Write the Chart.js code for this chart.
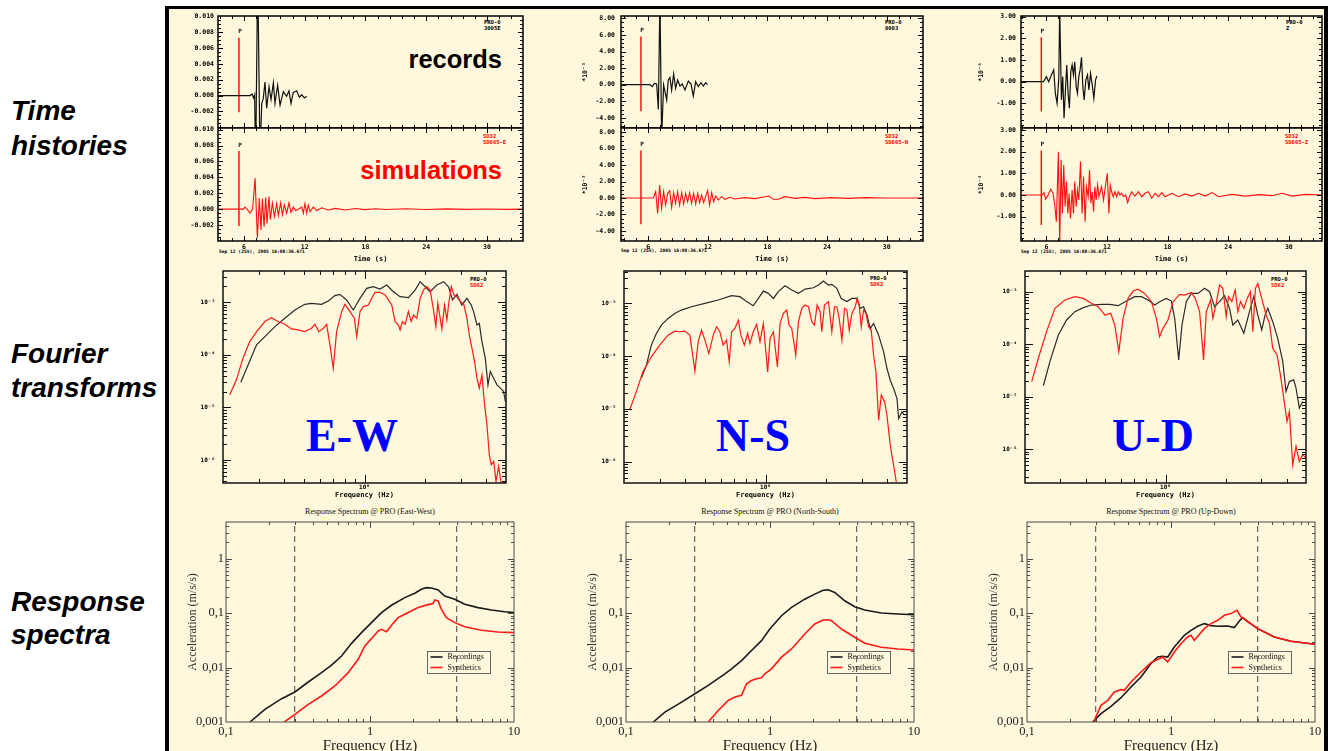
<!DOCTYPE html>
<html>
<head>
<meta charset="utf-8">
<title>Time histories, Fourier transforms and response spectra at PRO</title>
<script src="https://cdn.jsdelivr.net/npm/chart.js@4.4.1/dist/chart.umd.min.js"></script>
<style>
  html, body { margin:0; padding:0; }
  body { width:1328px; height:751px; position:relative; overflow:hidden; background:#ffffff; }
  #panel { position:absolute; left:165px; top:6px; width:1163px; height:820px; box-sizing:border-box; border:4px solid #000; border-top-width:3px; background:#FFF8DC; }
  canvas { position:absolute; }
  .side { position:absolute; left:11px; font:italic bold 28px "Liberation Sans", Arial, sans-serif; line-height:28px; color:#000; white-space:nowrap; }
  .big { position:absolute; width:200px; margin-left:-100px; text-align:center; font:bold 46px "Liberation Serif", "Times New Roman", serif; line-height:46px; color:#0000ff; }
  .tag { position:absolute; width:200px; text-align:right; font:bold 25.5px "Liberation Sans", Arial, sans-serif; line-height:25.5px; white-space:nowrap; }
  .tiny { position:absolute; font:bold 5.5px "DejaVu Sans Mono", monospace; line-height:5.5px; white-space:pre; }
  .stamp { position:absolute; font:bold 4.6px "DejaVu Sans Mono", monospace; line-height:5px; white-space:nowrap; color:#000; }
  .rtitle { position:absolute; width:300px; margin-left:-150px; text-align:center; font:8px "Liberation Serif", "Times New Roman", serif; line-height:8px; color:#111; white-space:nowrap; }
</style>
</head>
<body>
<div id="panel"></div>

<div class="side" style="top:97px">Time</div>
<div class="side" style="top:132px">histories</div>
<div class="side" style="top:340px">Fourier</div>
<div class="side" style="top:374px">transforms</div>
<div class="side" style="top:588px">Response</div>
<div class="side" style="top:621px">spectra</div>

<div class="tag" style="left:302px; top:47px; color:#000;">records</div>
<div class="tag" style="left:302px; top:158px; color:#ff0000;">simulations</div>

<div class="big" style="left:352px; top:413px;">E-W</div>
<div class="big" style="left:753px; top:413px;">N-S</div>
<div class="big" style="left:1153px; top:413px;">U-D</div>

<div class="tiny" style="left:484px; top:20px; color:#000;">PRO-0
3005E</div>
<div class="tiny" style="left:483px; top:134px; color:#ff0000;">SD32
SD065-E</div>
<div class="tiny" style="left:885px; top:20px; color:#000;">PRO-0
0003</div>
<div class="tiny" style="left:885px; top:134px; color:#ff0000;">SD32
SD065-N</div>
<div class="tiny" style="left:1286px; top:20px; color:#000;">PRO-0
Z</div>
<div class="tiny" style="left:1285px; top:134px; color:#ff0000;">SD32
SD065-Z</div>

<div class="tiny" style="left:470px; top:277px; color:#000;">PRO-0</div>
<div class="tiny" style="left:470px; top:283px; color:#ff0000;">SD62</div>
<div class="tiny" style="left:870px; top:276px; color:#000;">PRO-0</div>
<div class="tiny" style="left:870px; top:282px; color:#ff0000;">SD62</div>
<div class="tiny" style="left:1271px; top:277px; color:#000;">PRO-0</div>
<div class="tiny" style="left:1271px; top:283px; color:#ff0000;">SD62</div>

<div class="stamp" style="left:219px; top:249px;">Sep 12 (255), 2005 16:08:36.671</div>
<div class="stamp" style="left:621px; top:248px;">Sep 12 (255), 2005 16:08:36.671</div>
<div class="stamp" style="left:1021px; top:249px;">Sep 12 (255), 2005 16:08:36.671</div>

<div class="rtitle" style="left:370px; top:508px;">Response Spectrum @ PRO (East-West)</div>
<div class="rtitle" style="left:770px; top:508px;">Response Spectrum @ PRO (North-South)</div>
<div class="rtitle" style="left:1171px; top:508px;">Response Spectrum @ PRO (Up-Down)</div>

<script>
// ---------------- tick values and labels ----------------
const timeXTicks = [6, 12, 18, 24, 30];
const timeXLabels = ['6', '12', '18', '24', '30'];
const ewTimeYTicks = [-0.002, 0, 0.002, 0.004, 0.006, 0.008, 0.010];
const ewTimeYLabels = ['-0.002', '0.000', '0.002', '0.004', '0.006', '0.008', '0.010'];
const nsTimeYTicks = [-4, -2, 0, 2, 4, 6, 8];
const nsTimeYLabels = ['-4.00', '-2.00', '0.00', '2.00', '4.00', '6.00', '8.00'];
const udTimeYTicks = [-1, 0, 1, 2, 3];
const udTimeYLabels = ['-1.00', '0.00', '1.00', '2.00', '3.00'];
const fourierXTicks = [1];
const fourierXLabels = ['10\u2070'];
const fourierYTicks = [1e-6, 1e-5, 1e-4, 1e-3];
const fourierYLabels = ['10\u207B\u2076', '10\u207B\u2075', '10\u207B\u2074', '10\u207B\u00B3'];
const rsXTicks = [0.1, 1, 10];
const rsXLabels = ['0,1', '1', '10'];
const rsYTicks = [0.001, 0.01, 0.1, 1];
const rsYLabels = ['0,001', '0,01', '0,1', '1'];
const rsBand = [0.3, 4];            // dashed frequency limits (Hz)

// ---------------- P arrival picks (s) and bar extents ----------------
const pArrival = [5.5, 5.26, 5.5];
const pBarEW = [-0.0021, 0.0073];
const pBarNS = [-3.2, 5.8];
const pBarUD = [-1.38, 2.05];

// ---------------- time histories [t (s), value] ----------------
const ewRecord = [[3.4,0],[6.6,0],[6.8,0.0002],[6.95,-0.0003],[7.05,0.0001],[7.15,-0.009],[7.35,0.016],[7.58,-0.008],[7.75,-0.001],[7.9,-0.0004],[8.07,0.0017],[8.24,-0.0016],[8.47,0.0011],[8.67,-0.0005],[8.9,0.0016],[9.06,-0.001],[9.32,0.0013],[9.56,-0.0012],[9.88,0.0005],[10.21,-0.0001],[10.44,0.0006],[10.64,-0.001],[10.87,0.0004],[11.2,0.0006],[11.47,-0.0002],[11.7,0.0001],[11.96,-0.0003],[12.19,-0.0001]];
const ewSynth = [[3.4,0],[5.95,0],[6.1,0.00025],[6.3,0],[6.59,-0.0005],[6.85,0],[7.09,0.0039],[7.32,-0.0036],[7.51,0.0014],[7.68,-0.0026],[7.81,0.0013],[7.98,-0.0022],[8.14,0.0015],[8.27,-0.0018],[8.47,0.0016],[8.6,-0.0013],[8.8,0.00075],[9.0,-0.0009],[9.23,0.0007],[9.39,-0.0008],[9.62,0.0008],[9.79,-0.0007],[9.98,0.00055],[10.21,-0.0005],[10.44,0.0008],[10.64,-0.0004],[10.87,0.00025],[11.1,-0.00017],[11.37,0],[11.7,0.00025],[11.86,-0.0005],[12.02,0.0007],[12.19,-0.0005],[12.35,0.0005],[12.52,-0.0003],[12.85,0.00025],[13.18,-0.00017],[13.68,0.00017],[14.34,-0.0001],[15.0,0.0001],[16,-0.0001],[17,0.00008],[18,-0.00006],[19,0.00006],[20,-0.00005],[22,0.00005],[24,-0.00004],[26,0.00004],[28,-0.00003],[30,0.00003],[32,-0.00002],[33.6,0]];
const nsRecord = [[3.3,0],[6.17,0],[6.4,-0.24],[6.6,0.16],[6.84,0.08],[7.01,-3.0],[7.17,10.5],[7.34,-6.5],[7.54,-0.04],[7.68,-0.84],[7.85,-1.84],[8.01,0.56],[8.18,0.88],[8.35,-0.64],[8.55,1.28],[8.75,-0.44],[8.95,0.56],[9.19,-0.16],[9.42,0.08],[9.69,-0.64],[10.03,0.44],[10.3,0.08],[10.53,-1.36],[10.77,0.36],[11.03,-0.24],[11.3,0.24],[11.54,-0.16],[11.77,0.24],[11.97,0]];
const nsSynth = [[3.3,0],[6.5,0],[6.74,0.77],[6.94,-1.87],[7.14,1.59],[7.34,-1.26],[7.54,0.77],[7.74,-0.85],[7.95,0.57],[8.15,0.89],[8.35,-1.14],[8.55,0.65],[8.75,-0.65],[8.95,0.77],[9.15,-0.85],[9.36,0.65],[9.56,-0.73],[9.76,0.57],[9.96,-0.45],[10.16,0.65],[10.36,-0.65],[10.56,0.57],[10.77,-0.73],[10.97,0.57],[11.17,-0.57],[11.37,0.37],[11.57,-0.57],[11.77,0.16],[11.97,0.89],[12.17,-0.85],[12.38,0.65],[12.58,-0.45],[12.78,0.24],[13.05,-0.24],[13.38,0.16],[13.72,-0.16],[14.22,0.08],[14.72,-0.12],[15.73,0.04],[16.74,-0.08],[17.74,0.16],[18.15,0.24],[18.58,-0.16],[19.09,-0.16],[19.76,0.16],[20.77,-0.04],[21.77,0.08],[22.78,-0.08],[24.46,0.04],[26.13,-0.04],[27.81,0.04],[29.83,0],[33.7,0]];
const udRecord = [[3.5,0],[5.7,0],[5.83,0.08],[6.0,0.23],[6.23,0],[6.5,0.31],[6.73,0.54],[6.89,-0.54],[7.06,-1.0],[7.23,0.15],[7.32,3.4],[7.49,-0.85],[7.62,0.23],[7.75,-1.69],[7.89,-0.38],[8.02,0.77],[8.15,-0.54],[8.28,-1.23],[8.42,0.46],[8.55,0.77],[8.68,0.31],[8.81,0.92],[8.95,-0.23],[9.08,-0.54],[9.21,0.23],[9.34,0.54],[9.48,1.12],[9.61,-0.23],[9.74,-0.85],[9.91,0.08],[10.07,0.31],[10.21,-0.38],[10.37,0.38],[10.54,-0.15],[10.7,-0.77],[10.87,0.08],[11.0,0.26]];
const udSynth = [[3.5,0],[5.6,0],[5.77,0.11],[5.93,-0.2],[6.17,0],[6.43,0.26],[6.66,0.08],[6.83,-0.46],[6.99,-1.23],[7.19,2.0],[7.32,-2.3],[7.46,1.62],[7.59,-0.85],[7.72,1.38],[7.85,-0.54],[7.99,0.62],[8.12,-0.85],[8.25,0.08],[8.38,-1.08],[8.55,0.23],[8.68,-0.85],[8.81,0.62],[8.95,-0.54],[9.08,0.23],[9.21,-0.23],[9.38,1.54],[9.54,-0.85],[9.68,0.85],[9.84,-1.23],[9.97,0.38],[10.14,-0.08],[10.27,1.15],[10.4,-0.38],[10.54,0.15],[10.67,-0.77],[10.8,0.38],[10.93,-0.23],[11.07,0.46],[11.2,-0.08],[11.46,0.38],[11.66,-0.23],[11.79,0.23],[12.03,1.0],[12.19,-0.85],[12.32,0.46],[12.46,0.15],[12.62,-0.08],[12.79,0.15],[12.95,-0.08],[13.12,0.15],[13.28,0],[13.45,0.08],[13.65,-0.08],[13.85,0],[14.05,-0.35],[14.25,-0.05],[14.44,0.15],[14.77,-0.05],[15.11,0.15],[15.44,-0.08],[15.77,0.08],[16.1,0.15],[16.43,-0.15],[16.76,0.08],[17.09,-0.08],[17.42,0.11],[17.75,-0.08],[18.42,0.08],[19.08,-0.08],[19.74,0.05],[20.4,-0.05],[21.07,0.08],[21.73,-0.05],[22.39,0.11],[23.05,-0.08],[24.38,0.03],[25.7,-0.05],[27.03,0.02],[28.35,-0.03],[29.34,0.08],[30.34,-0.05],[31.66,0.03],[33.32,0]];

// ---------------- Fourier amplitude spectra [f (Hz), amplitude] ----------------
const fEWRec = [[0.245,3.03e-5],[0.266,6.45e-5],[0.293,1.55e-4],[0.322,2.23e-4],[0.361,3.45e-4],[0.404,4.97e-4],[0.453,7.15e-4],[0.507,9.16e-4],[0.547,9.57e-4],[0.614,9.16e-4],[0.662,1.06e-3],[0.714,1.34e-3],[0.756,1.42e-3],[0.816,1.11e-3],[0.88,7.15e-4],[0.95,1.19e-3],[1.025,1.84e-3],[1.106,1.98e-3],[1.193,1.79e-3],[1.287,2.13e-3],[1.389,1.59e-3],[1.499,1.28e-3],[1.648,1.23e-3],[1.778,1.71e-3],[1.883,2.47e-3],[1.994,1.98e-3],[2.11,1.59e-3],[2.277,2.13e-3],[2.457,2.47e-3],[2.601,1.98e-3],[2.722,1.11e-3],[2.861,1.42e-3],[3.028,8.9e-4],[3.206,1.19e-3],[3.368,8.9e-4],[3.459,6.65e-4],[3.593,3.71e-4],[3.69,3.99e-4],[3.803,1.79e-4],[3.95,8.65e-5],[4.073,2.69e-5],[4.183,4.83e-5],[4.346,3.61e-5],[4.513,2.69e-5],[4.688,2.33e-5],[4.869,2.01e-5],[4.962,1.3e-5]];
const fEWSyn = [[0.216,1.74e-5],[0.233,3.35e-5],[0.251,8.65e-5],[0.271,1.79e-4],[0.293,2.77e-4],[0.322,4.3e-4],[0.347,5.11e-4],[0.374,4.3e-4],[0.404,3.82e-4],[0.436,3.12e-4],[0.47,2.98e-4],[0.507,2.77e-4],[0.547,3.21e-4],[0.569,3.82e-4],[0.595,2.77e-4],[0.626,3.21e-4],[0.65,3.82e-4],[0.675,1.55e-4],[0.701,5.58e-5],[0.728,2.77e-4],[0.771,6.65e-4],[0.801,9.16e-4],[0.848,6.65e-4],[0.891,4.97e-4],[0.915,2.23e-4],[0.95,6.65e-4],[0.987,8.28e-4],[1.045,8.9e-4],[1.085,1.19e-3],[1.127,1.55e-3],[1.193,1.55e-3],[1.263,1.38e-3],[1.363,8.9e-4],[1.416,4.3e-4],[1.471,3.71e-4],[1.499,2.98e-4],[1.539,4.3e-4],[1.587,3.82e-4],[1.648,6.65e-4],[1.699,4.3e-4],[1.745,5.74e-4],[1.813,4.97e-4],[1.883,1.19e-3],[1.956,1.71e-3],[2.032,1.98e-3],[2.11,1.71e-3],[2.192,7.15e-4],[2.251,3.45e-4],[2.303,9.57e-4],[2.365,4.97e-4],[2.41,3.12e-4],[2.485,8.9e-4],[2.552,4.62e-4],[2.601,8.9e-4],[2.682,1.98e-3],[2.765,1.38e-3],[2.861,1.28e-3],[2.971,1.03e-3],[3.086,9.57e-4],[3.206,4.97e-4],[3.292,2.4e-4],[3.394,1.34e-4],[3.498,7.47e-5],[3.593,3.61e-5],[3.69,2.33e-5],[3.803,4.17e-5],[3.92,1.12e-5],[4.026,4.69e-6],[4.134,1.26e-6],[4.231,8.15e-7],[4.346,9.44e-7],[4.462,3.94e-7],[4.6,7.58e-7],[4.742,3.4e-7],[4.962,3.94e-7]];
const fNSRec = [[0.244,3.88e-5],[0.258,6.74e-5],[0.273,1.62e-4],[0.289,2.69e-4],[0.306,3.88e-4],[0.33,5.19e-4],[0.356,6.46e-4],[0.384,7.47e-4],[0.431,8.64e-4],[0.502,1.0e-3],[0.584,1.16e-3],[0.68,1.4e-3],[0.748,1.34e-3],[0.807,1.08e-3],[0.87,9.03e-4],[0.922,1.24e-3],[0.976,1.71e-3],[1.033,1.55e-3],[1.094,1.24e-3],[1.157,1.67e-3],[1.249,2.16e-3],[1.348,1.79e-3],[1.454,1.55e-3],[1.569,1.87e-3],[1.725,1.98e-3],[1.827,2.23e-3],[1.933,2.65e-3],[2.047,2.23e-3],[2.126,2.3e-3],[2.251,1.93e-3],[2.365,1.24e-3],[2.524,1.08e-3],[2.672,1.24e-3],[2.829,1.24e-3],[2.938,8.04e-4],[3.052,8.64e-4],[3.17,6.01e-4],[3.292,3.35e-4],[3.42,4.17e-4],[3.621,2.5e-4],[3.833,1.21e-4],[3.981,5.83e-5],[4.134,3.5e-5],[4.295,2.43e-5],[4.462,1.57e-5],[4.546,6.55e-6],[4.722,8.78e-6],[4.869,7.58e-6]];
const fNSSyn = [[0.213,9.44e-6],[0.23,2.1e-5],[0.248,5.04e-5],[0.273,9.71e-5],[0.3,1.62e-4],[0.33,2.5e-4],[0.356,2.98e-4],[0.377,2.9e-4],[0.399,2.98e-4],[0.423,2.5e-4],[0.448,5.19e-5],[0.465,1.87e-4],[0.483,3.12e-4],[0.502,2.01e-4],[0.525,1.12e-4],[0.552,2.5e-4],[0.573,3.61e-4],[0.595,2.9e-4],[0.618,1.62e-4],[0.642,2.01e-4],[0.662,7.8e-5],[0.68,2.9e-4],[0.706,3.35e-4],[0.734,4.83e-4],[0.756,2.5e-4],[0.786,1.62e-4],[0.816,2.69e-4],[0.838,1.74e-4],[0.87,2.9e-4],[0.904,3.99e-4],[0.939,1.87e-4],[0.976,4.17e-4],[1.025,5.04e-5],[1.053,2.16e-4],[1.094,2.9e-4],[1.145,6.27e-5],[1.18,4.17e-4],[1.226,6.46e-4],[1.273,7.47e-4],[1.307,3.88e-4],[1.348,3.35e-4],[1.411,1.04e-4],[1.454,4.49e-4],[1.511,8.04e-4],[1.569,9.3e-4],[1.63,8.64e-4],[1.693,4.49e-4],[1.745,3.88e-4],[1.799,9.3e-4],[1.861,6.95e-4],[1.897,2.9e-4],[1.956,9.3e-4],[2.047,1.08e-3],[2.126,2.9e-4],[2.192,8.64e-4],[2.251,8.64e-4],[2.312,5.19e-4],[2.384,2.01e-4],[2.457,8.04e-4],[2.524,7.47e-4],[2.592,3.12e-4],[2.672,6.46e-4],[2.775,8.64e-4],[2.838,1.24e-3],[2.904,9.3e-4],[2.971,3.61e-4],[3.052,7.47e-4],[3.133,6.46e-4],[3.23,3.61e-4],[3.329,3.12e-4],[3.42,1.04e-4],[3.512,5.04e-5],[3.621,6.09e-6],[3.732,1.82e-5],[3.878,1.36e-5],[3.981,7.58e-6],[4.134,2.04e-6],[4.295,8.51e-7],[4.428,4.11e-7]];
const fUDRec = [[0.247,1.64e-5],[0.266,4.69e-5],[0.293,1.5e-4],[0.322,2.9e-4],[0.354,4.17e-4],[0.39,4.97e-4],[0.428,5.58e-4],[0.48,5.74e-4],[0.528,5.74e-4],[0.581,5.42e-4],[0.639,6.65e-4],[0.703,8.04e-4],[0.759,8.04e-4],[0.819,6.95e-4],[0.884,5.58e-4],[0.935,6.46e-4],[1.01,7.47e-4],[1.069,6.65e-4],[1.111,3.12e-4],[1.163,5.04e-5],[1.208,2.33e-4],[1.269,6.46e-4],[1.344,9.3e-4],[1.45,9.3e-4],[1.565,1.16e-3],[1.657,1.0e-3],[1.754,5.19e-4],[1.857,6.46e-4],[1.966,8.39e-4],[2.082,4.83e-4],[2.163,2.33e-4],[2.29,2.9e-4],[2.453,1.62e-4],[2.617,4.17e-4],[2.749,8.04e-4],[2.878,3.61e-4],[3.012,1.87e-4],[3.13,3.61e-4],[3.227,4.83e-4],[3.416,2.69e-4],[3.617,1.3e-4],[3.831,4.69e-5],[3.978,1.26e-5],[4.133,1.95e-5],[4.343,2.1e-5],[4.46,1.46e-5],[4.634,6.09e-6],[4.813,8.15e-6]];
const fUDSyn = [[0.216,1.95e-5],[0.233,5.42e-5],[0.256,1.74e-4],[0.282,4.83e-4],[0.316,6.95e-4],[0.354,8.04e-4],[0.39,7.47e-4],[0.428,6.01e-4],[0.462,5.19e-4],[0.499,3.61e-4],[0.534,3.88e-4],[0.559,2.33e-4],[0.586,7.26e-5],[0.615,3.12e-4],[0.651,7.47e-4],[0.69,1.03e-3],[0.73,1.12e-3],[0.788,9.3e-4],[0.851,6.46e-4],[0.901,3.12e-4],[0.935,1.4e-4],[0.972,2.01e-4],[1.029,2.9e-4],[1.09,6.46e-4],[1.176,8.9e-4],[1.245,8.64e-4],[1.344,9.71e-4],[1.406,7.47e-4],[1.478,4.17e-4],[1.547,5.04e-5],[1.595,4.17e-4],[1.676,6.95e-4],[1.721,3.12e-4],[1.788,6.01e-4],[1.857,1.34e-3],[1.929,1.16e-3],[2.004,3.35e-4],[2.058,8.04e-4],[2.138,6.46e-4],[2.221,1.08e-3],[2.29,4.17e-4],[2.361,6.46e-4],[2.453,4.83e-4],[2.548,7.47e-4],[2.646,1.0e-3],[2.718,1.74e-4],[2.802,1.16e-3],[2.878,1.44e-3],[3.012,7.47e-4],[3.166,3.61e-4],[3.289,2.5e-4],[3.416,8.39e-5],[3.589,6.27e-5],[3.729,2.62e-5],[3.874,9.44e-6],[4.024,3.4e-6],[4.133,5.27e-6],[4.294,5.11e-7],[4.46,1.14e-6],[4.634,5.91e-7],[4.813,7.92e-7],[5.0,6.84e-7]];

// ---------------- response spectra [f (Hz), acceleration (m/s/s)] ----------------
const rsEWRec = [[0.1467,0.001],[0.1864,0.00171],[0.2433,0.00268],[0.301,0.00356],[0.3725,0.00542],[0.461,0.00805],[0.5406,0.0111],[0.6345,0.0163],[0.7441,0.0278],[0.873,0.0437],[1.024,0.0667],[1.202,0.102],[1.41,0.139],[1.744,0.192],[2.046,0.231],[2.276,0.273],[2.466,0.293],[2.671,0.289],[2.971,0.266],[3.304,0.206],[3.877,0.179],[4.549,0.145],[5.627,0.126],[6.964,0.114],[8.616,0.106],[10,0.102]];
const rsEWSyn = [[0.2539,0.001],[0.301,0.00138],[0.3725,0.00211],[0.461,0.003],[0.5703,0.00458],[0.7057,0.00805],[0.8279,0.0142],[0.9209,0.0249],[1.024,0.0339],[1.139,0.0469],[1.202,0.0503],[1.302,0.0456],[1.41,0.0596],[1.568,0.0824],[1.744,0.0949],[2.158,0.126],[2.533,0.143],[2.743,0.149],[2.817,0.174],[2.971,0.167],[3.133,0.117],[3.393,0.0824],[3.877,0.0667],[4.549,0.0563],[5.935,0.0482],[7.745,0.045],[10,0.0437]];
const rsNSRec = [[0.1547,0.001],[0.1864,0.00152],[0.2433,0.00232],[0.301,0.0033],[0.3725,0.00469],[0.4861,0.00766],[0.5406,0.00946],[0.6345,0.0134],[0.7441,0.0205],[0.873,0.0312],[0.9973,0.051],[1.202,0.0894],[1.41,0.127],[1.744,0.18],[2.046,0.223],[2.338,0.263],[2.533,0.267],[2.817,0.239],[3.304,0.168],[3.877,0.131],[4.549,0.1135],[5.935,0.1],[7.745,0.0959],[10,0.0933]];
const rsNSSyn = [[0.3725,0.001],[0.4371,0.00163],[0.5127,0.00249],[0.5703,0.00287],[0.6345,0.00308],[0.6871,0.00503],[0.7441,0.00578],[0.8062,0.00621],[0.873,0.00647],[0.9209,0.00766],[1.024,0.00946],[1.202,0.0155],[1.41,0.0219],[1.744,0.0413],[2.046,0.0629],[2.338,0.0745],[2.533,0.0755],[2.671,0.0724],[3.133,0.051],[3.877,0.0359],[4.549,0.0279],[5.935,0.0235],[7.745,0.0219],[10,0.021]];
const rsUDRec = [[0.2858,0.001],[0.3265,0.00142],[0.3831,0.00194],[0.4496,0.00279],[0.5275,0.00439],[0.619,0.0067],[0.7262,0.0118],[0.8078,0.0156],[0.8752,0.0161],[0.9482,0.0156],[1.0547,0.0238],[1.238,0.0391],[1.377,0.0482],[1.532,0.0572],[1.704,0.064],[1.896,0.0588],[2.109,0.0572],[2.475,0.058],[2.754,0.054],[2.982,0.0716],[3.146,0.0824],[3.408,0.07],[3.999,0.0518],[5.219,0.0364],[6.812,0.0303],[10,0.0267]];
const rsUDSyn = [[0.2904,0.001],[0.3265,0.00202],[0.3633,0.0025],[0.4042,0.00356],[0.4496,0.00392],[0.4742,0.00381],[0.5275,0.00542],[0.619,0.00828],[0.7262,0.0123],[0.8078,0.014],[0.8752,0.0156],[0.9482,0.0126],[1.0547,0.0193],[1.173,0.0274],[1.305,0.0364],[1.377,0.0391],[1.452,0.0316],[1.532,0.0374],[1.704,0.0518],[1.896,0.064],[2.109,0.0737],[2.346,0.091],[2.611,0.0977],[2.873,0.1124],[3.063,0.0848],[3.408,0.07],[3.999,0.0518],[5.219,0.0364],[6.812,0.0303],[10,0.0267]];

// ---------------- helpers ----------------
Chart.defaults.font.family = '"DejaVu Sans Mono", monospace';
const mono = (size, weight) => ({family: '"DejaVu Sans Mono", monospace', size: size, weight: weight || 'bold', lineHeight: 1.2});
const serif = (size) => ({family: '"Liberation Serif", "Times New Roman", serif', size: size, weight: 'normal', lineHeight: 1.2});
const pts = arr => arr.map(p => ({x: p[0], y: p[1]}));

function minorValues(scale, step) {
  const out = [];
  if (step === 'log') {
    const e0 = Math.floor(Math.log10(scale.min)), e1 = Math.ceil(Math.log10(scale.max));
    for (let e = e0; e <= e1; e++) for (let m = 2; m <= 9; m++) {
      const v = m * Math.pow(10, e);
      if (v > scale.min && v < scale.max) out.push(v);
    }
  } else if (step) {
    const k0 = Math.ceil(scale.min / step - 1e-9), k1 = Math.floor(scale.max / step + 1e-9);
    for (let k = k0; k <= k1; k++) out.push(k * step);
  }
  return out;
}

const framePlugin = {
  id: 'frame',
  afterDatasetsDraw(chart, args, o) {
    const ctx = chart.ctx, a = chart.chartArea, xs = chart.scales.x, ys = chart.scales.y;
    ctx.save();
    ctx.strokeStyle = o.color;
    ctx.lineWidth = o.tickWidth;
    ctx.beginPath();
    const xt = (vals, len) => vals.forEach(v => {
      const p = Math.round(xs.getPixelForValue(v)) + 0.5;
      if (p <= a.left + 1 || p >= a.right - 1) return;
      ctx.moveTo(p, a.bottom); ctx.lineTo(p, a.bottom - len);
      ctx.moveTo(p, a.top); ctx.lineTo(p, a.top + len);
    });
    const yt = (vals, len) => vals.forEach(v => {
      const p = Math.round(ys.getPixelForValue(v)) + 0.5;
      if (p <= a.top + 1 || p >= a.bottom - 1) return;
      ctx.moveTo(a.left, p); ctx.lineTo(a.left + len, p);
      ctx.moveTo(a.right, p); ctx.lineTo(a.right - len, p);
    });
    xt(xs.ticks.map(t => t.value), o.major);
    yt(ys.ticks.map(t => t.value), o.major);
    xt(minorValues(xs, o.minorX), o.minor);
    yt(minorValues(ys, o.minorY), o.minor);
    ctx.stroke();
    ctx.lineWidth = o.width;
    ctx.strokeRect(a.left, a.top, a.right - a.left, a.bottom - a.top);
    if (o.pLabel) {
      const px = xs.getPixelForValue(o.pLabel.x), py = ys.getPixelForValue(o.pLabel.y);
      ctx.fillStyle = '#000';
      ctx.font = 'bold 6px "DejaVu Sans Mono"';
      ctx.textAlign = 'center';
      ctx.textBaseline = 'bottom';
      ctx.fillText('P', px + 1, py - 3);
    }
    if (o.legend) {
      const L = o.legend, x0 = Math.round(a.left + L.dx) + 0.5, y0 = Math.round(a.top + L.dy) + 0.5;
      ctx.strokeStyle = '#666'; ctx.lineWidth = 1;
      ctx.strokeRect(x0, y0, L.w, L.h);
      const items = chart.data.datasets.filter(d => d.legendRank).sort((p, q) => p.legendRank - q.legendRank);
      items.forEach((d, i) => {
        const yy = y0 + 5.5 + i * 10.5;
        ctx.strokeStyle = d.borderColor; ctx.lineWidth = 1.6;
        ctx.beginPath(); ctx.moveTo(x0 + 3, yy); ctx.lineTo(x0 + 15, yy); ctx.stroke();
        ctx.fillStyle = '#111';
        ctx.font = '8px "Liberation Serif"';
        ctx.textAlign = 'left'; ctx.textBaseline = 'middle';
        ctx.fillText(d.label, x0 + 20, yy);
      });
    }
    ctx.restore();
  }
};

function makeChart(s) {
  const W = s.pad.l + s.plot.w + s.pad.r, H = s.pad.t + s.plot.h + s.pad.b;
  const cv = document.createElement('canvas');
  cv.width = W; cv.height = H;
  cv.style.left = (s.plot.l - s.pad.l) + 'px';
  cv.style.top = (s.plot.t - s.pad.t) + 'px';
  cv.style.width = W + 'px'; cv.style.height = H + 'px';
  document.body.appendChild(cv);
  const scale = (ax, isX) => ({
    type: ax.type, min: ax.min, max: ax.max, bounds: 'data', position: isX ? 'bottom' : 'left',
    grid: {display: false, drawTicks: false, tickLength: 0}, border: {display: false},
    ticks: {display: !!ax.labels, autoSkip: false, maxRotation: 0, minRotation: 0,
      padding: ax.padding || 0, color: ax.color || '#000', font: ax.font || mono(6.5),
      callback: (v, i) => ax.labels ? ax.labels[i] : ''},
    title: {display: !!ax.title, text: ax.title || '', color: ax.titleColor || '#000',
      font: ax.titleFont || mono(7), padding: 0},
    afterBuildTicks: sc => { sc.ticks = ax.ticks.map(v => ({value: v})); },
    afterFit: sc => {
      if (isX) sc.height = s.pad.b; else sc.width = s.pad.l;
      sc.paddingLeft = 0; sc.paddingRight = 0; sc.paddingTop = 0; sc.paddingBottom = 0;
    }
  });
  return new Chart(cv, {
    type: 'line',
    data: {datasets: s.datasets},
    options: {
      responsive: false, animation: false, events: [],
      layout: {padding: {top: s.pad.t, right: s.pad.r, bottom: 0, left: 0}},
      elements: {point: {radius: 0}, line: {tension: 0, fill: false}},
      scales: {x: scale(s.x, true), y: scale(s.y, false)},
      plugins: {legend: {display: false}, tooltip: {enabled: false}, title: {display: false}, frame: s.frame}
    },
    plugins: [framePlugin]
  });
}

const trace = (arr, color, w) => ({data: pts(arr), borderColor: color, borderWidth: w || 1});
const pBar = (t, bar) => ({data: [{x: t, y: bar[0]}, {x: t, y: bar[1]}], borderColor: '#ff1010', borderWidth: 1.5});

// ---------------- time histories ----------------
function timePanel(o) {
  const yAx = (yr) => ({type: 'linear', min: yr[0], max: yr[1], ticks: o.yTicks, labels: o.yLabels,
    font: mono(6.5), padding: o.lblPad, title: o.yTitle, titleFont: mono(6.5)});
  makeChart({
    plot: {l: o.l, t: 16, w: o.w, h: 112}, pad: {l: o.padL, r: 3, t: 8, b: 0},
    x: {type: 'linear', min: o.xr[0], max: o.xr[1], ticks: timeXTicks, labels: null},
    y: yAx(o.yTop),
    datasets: [trace(o.rec, '#111', 1.2), pBar(o.pt, o.bar)],
    frame: {color: '#000', width: 1.5, tickWidth: 1, major: 5, minor: 3, minorX: 1.2, minorY: o.minorY, pLabel: {x: o.pt, y: o.bar[1]}}
  });
  makeChart({
    plot: {l: o.l, t: 128, w: o.w, h: 113}, pad: {l: o.padL, r: 3, t: 6, b: 22},
    x: {type: 'linear', min: o.xr[0], max: o.xr[1], ticks: timeXTicks, labels: timeXLabels,
      font: mono(6.5), padding: 2, title: 'Time (s)', titleFont: mono(7)},
    y: yAx(o.yBot),
    datasets: [trace(o.syn, '#ff1010', 1.1), pBar(o.pt, o.bar)],
    frame: {color: '#000', width: 1.5, tickWidth: 1, major: 5, minor: 3, minorX: 1.2, minorY: o.minorY, pLabel: {x: o.pt, y: o.bar[1]}}
  });
}
timePanel({l: 218, w: 305, xr: [3.43, 33.56], yTop: [-0.0041, 0.01005], yBot: [-0.0040, 0.0102],
  yTicks: ewTimeYTicks, yLabels: ewTimeYLabels, minorY: 0.0005, padL: 50, lblPad: 4, yTitle: null,
  rec: ewRecord, syn: ewSynth, pt: pArrival[0], bar: pBarEW});
timePanel({l: 621, w: 302, xr: [3.25, 33.66], yTop: [-5.22, 8.28], yBot: [-5.24, 8.53],
  yTicks: nsTimeYTicks, yLabels: nsTimeYLabels, minorY: 0.5, padL: 40, lblPad: 6, yTitle: '*10\u207B\u00B3',
  rec: nsRecord, syn: nsSynth, pt: pArrival[1], bar: pBarNS});
timePanel({l: 1021, w: 301, xr: [3.49, 33.28], yTop: [-2.14, 3.03], yBot: [-2.12, 3.09],
  yTicks: udTimeYTicks, yLabels: udTimeYLabels, minorY: 0.25, padL: 44, lblPad: 5, yTitle: '*10\u207B\u2074',
  rec: udRecord, syn: udSynth, pt: pArrival[2], bar: pBarUD});

// ---------------- Fourier transforms ----------------
function fourierPanel(o) {
  makeChart({
    plot: {l: o.l, t: 271, w: o.w, h: 212}, pad: {l: 30, r: 6, t: 4, b: 16},
    x: {type: 'logarithmic', min: 0.2, max: 5, ticks: fourierXTicks, labels: fourierXLabels,
      font: mono(6), padding: 1, title: 'Frequency (Hz)', titleFont: mono(7)},
    y: {type: 'logarithmic', min: o.yr[0], max: o.yr[1], ticks: fourierYTicks, labels: fourierYLabels,
      font: mono(6), padding: 8},
    datasets: [trace(o.syn, '#ff1a1a', 1.2), trace(o.rec, '#2a2a2a', 1.2)],
    frame: {color: '#111', width: 1.5, tickWidth: 1, major: 8, minor: 4, minorX: 'log', minorY: 'log'}
  });
}
fourierPanel({l: 223, w: 283, yr: [3.66e-7, 3.94e-3], rec: fEWRec, syn: fEWSyn});
fourierPanel({l: 624, w: 283, yr: [3.94e-7, 4.11e-3], rec: fNSRec, syn: fNSSyn});
fourierPanel({l: 1025, w: 281, yr: [2.29e-7, 2.48e-3], rec: fUDRec, syn: fUDSyn});

// ---------------- response spectra ----------------
function responsePanel(o) {
  const vline = f => ({data: [{x: f, y: 0.001}, {x: f, y: 4.7}], borderColor: '#444', borderWidth: 1, borderDash: [6, 4]});
  makeChart({
    plot: {l: o.l, t: 522, w: 288, h: 200}, pad: {l: 40, r: 12, t: 8, b: 33},
    x: {type: 'logarithmic', min: 0.1, max: 10, ticks: rsXTicks, labels: rsXLabels,
      font: serif(12.5), color: '#222', padding: 2, title: 'Frequency (Hz)', titleFont: serif(15), titleColor: '#222'},
    y: {type: 'logarithmic', min: 0.001, max: 4.7, ticks: rsYTicks, labels: rsYLabels,
      font: serif(12.5), color: '#222', padding: 2, title: 'Acceleration (m/s/s)', titleFont: serif(12), titleColor: '#333'},
    datasets: [
      {label: 'Synthetics', data: pts(o.syn), borderColor: '#ff1a1a', borderWidth: 1.6, legendRank: 2},
      {label: 'Recordings', data: pts(o.rec), borderColor: '#1a1a1a', borderWidth: 1.6, legendRank: 1},
      vline(rsBand[0]), vline(rsBand[1])
    ],
    frame: {color: '#4a4a4a', width: 1, tickWidth: 1, major: 6, minor: 3, minorX: 'log', minorY: 'log',
      legend: {dx: 201, dy: 129, w: 63, h: 22}}
  });
}
responsePanel({l: 226, rec: rsEWRec, syn: rsEWSyn});
responsePanel({l: 626, rec: rsNSRec, syn: rsNSSyn});
responsePanel({l: 1027, rec: rsUDRec, syn: rsUDSyn});
</script>
</body>
</html>
